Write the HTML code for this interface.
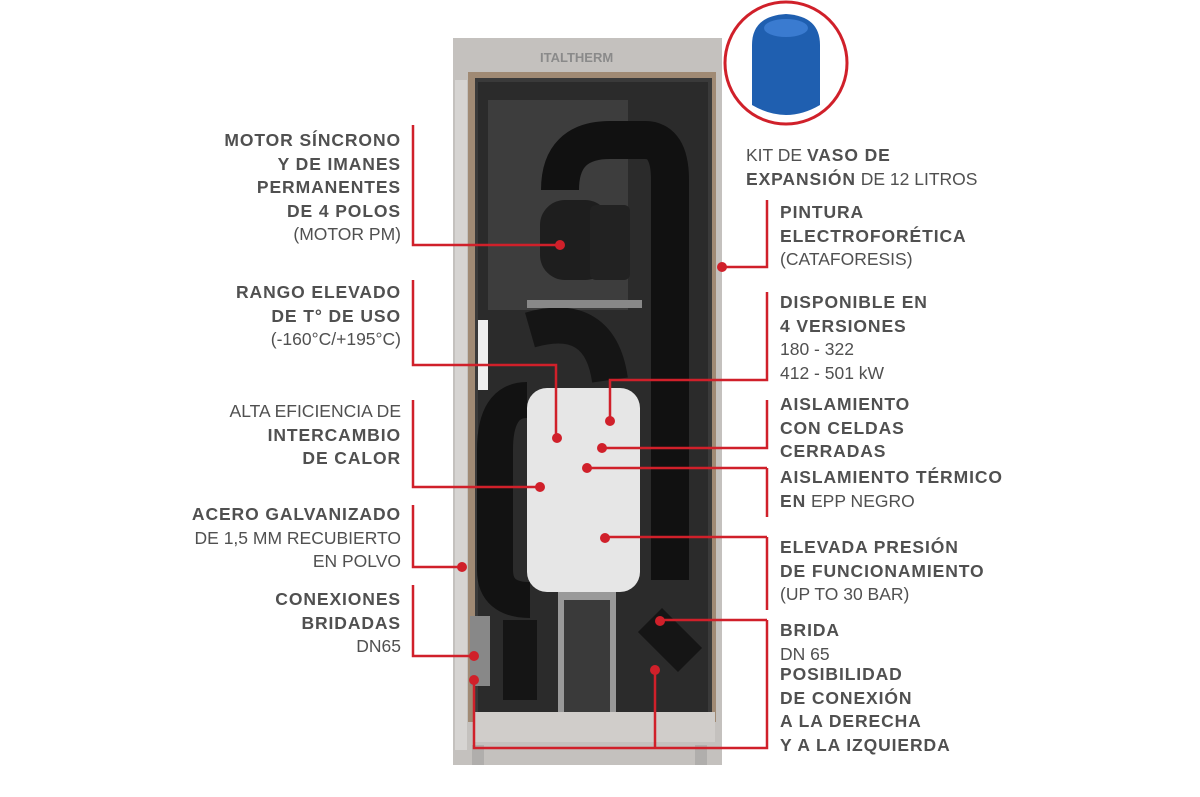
<!DOCTYPE html>
<html><head><meta charset="utf-8"><style>
body{margin:0;width:1200px;height:797px;background:#fff;position:relative;overflow:hidden;font-family:"Liberation Sans",sans-serif;color:#505050}
.t{position:absolute;font-size:17.5px;line-height:23.5px;white-space:nowrap}
.l{text-align:right;right:799px}
.r{left:780px}
b{font-weight:bold;letter-spacing:0.9px}
</style></head><body>
<svg width="1200" height="797" style="position:absolute;left:0;top:0">
<rect x="453" y="38" width="269" height="727" fill="#c4c1be"/>
<rect x="468" y="72" width="248" height="650" fill="#a08a74"/>
<rect x="475" y="78" width="237" height="642" fill="#3a3a3a"/>
<rect x="478" y="82" width="230" height="634" fill="#2b2b2b"/>
<rect x="488" y="100" width="140" height="210" fill="#3d3d3d"/>
<text x="540" y="62" font-family="Liberation Sans" font-size="13" font-weight="bold" fill="#8a8a8a">ITALTHERM</text>
<rect x="455" y="80" width="12" height="670" fill="#d6d4d2"/>
<rect x="478" y="320" width="10" height="70" fill="#eee"/>
<path d="M560 190 Q560 140 610 140 L645 140 Q670 140 670 180 L670 580" stroke="#111" stroke-width="38" fill="none"/>
<path d="M530 330 Q600 310 610 380" stroke="#151515" stroke-width="36" fill="none"/>
<path d="M527 400 Q495 400 495 450 L495 570 Q495 600 530 600" stroke="#121212" stroke-width="36" fill="none"/>
<path d="M520 620 L520 700 M650 620 L690 660" stroke="#151515" stroke-width="34" fill="none"/>
<rect x="540" y="200" width="70" height="80" rx="25" fill="#1e1e1e"/>
<rect x="590" y="205" width="40" height="75" rx="6" fill="#222"/>
<rect x="527" y="300" width="115" height="8" fill="#888"/>
<rect x="558" y="590" width="58" height="130" fill="#999"/>
<rect x="564" y="600" width="46" height="115" fill="#3a3a3a"/>
<rect x="470" y="616" width="20" height="70" fill="#888"/>
<rect x="475" y="712" width="240" height="30" fill="#d0cdca"/>
<rect x="472" y="745" width="12" height="20" fill="#b0aeac"/>
<rect x="695" y="745" width="12" height="20" fill="#b0aeac"/>
<rect x="527" y="388" width="113" height="204" rx="20" fill="#e6e6e6"/>
<circle cx="786" cy="63" r="61" fill="#fff" stroke="#d0202a" stroke-width="3"/>
<path d="M752 45 Q752 16 786 14 Q820 16 820 45 L820 105 Q786 125 752 105 Z" fill="#1f5fb0"/>
<ellipse cx="786" cy="28" rx="22" ry="9" fill="#3a7bd0"/>
<g stroke="#d0202a" stroke-width="2.5" fill="none">
<path d="M413 125 V245 H560"/>
<path d="M413 280 V365 H556 V438"/>
<path d="M413 400 V487 H540"/>
<path d="M413 505 V567 H462"/>
<path d="M413 585 V656 H474"/>
<path d="M474 680 V748 H767 V665 M655 670 V748"/>
<path d="M767 200 V267 H722"/>
<path d="M767 292 V380 H610 V421"/>
<path d="M767 400 V448 H602"/>
<path d="M767 468 V517 M767 468 H587"/>
<path d="M767 537 V610 M767 537 H605"/>
<path d="M767 620 V665 M767 620 H660"/>
</g>
<g fill="#d0202a">
<circle cx="560" cy="245" r="5"/><circle cx="557" cy="438" r="5"/><circle cx="540" cy="487" r="5"/>
<circle cx="462" cy="567" r="5"/><circle cx="474" cy="656" r="5"/><circle cx="474" cy="680" r="5"/>
<circle cx="655" cy="670" r="5"/><circle cx="722" cy="267" r="5"/><circle cx="610" cy="421" r="5"/>
<circle cx="602" cy="448" r="5"/><circle cx="587" cy="468" r="5"/><circle cx="605" cy="538" r="5"/><circle cx="660" cy="621" r="5"/>
</g>
</svg>
<div class="t l" style="top:129px"><b>MOTOR SÍNCRONO<br>Y DE IMANES<br>PERMANENTES<br>DE 4 POLOS</b><br>(MOTOR PM)</div>
<div class="t l" style="top:281px"><b>RANGO ELEVADO<br>DE T° DE USO</b><br>(-160°C/+195°C)</div>
<div class="t l" style="top:400px">ALTA EFICIENCIA DE<br><b>INTERCAMBIO<br>DE CALOR</b></div>
<div class="t l" style="top:503px"><b>ACERO GALVANIZADO</b><br>DE 1,5 MM RECUBIERTO<br>EN POLVO</div>
<div class="t l" style="top:588px"><b>CONEXIONES<br>BRIDADAS</b><br>DN65</div>
<div class="t" style="left:746px;top:144px">KIT DE <b>VASO DE<br>EXPANSIÓN</b> DE 12 LITROS</div>
<div class="t r" style="top:201px"><b>PINTURA<br>ELECTROFORÉTICA</b><br>(CATAFORESIS)</div>
<div class="t r" style="top:291px"><b>DISPONIBLE EN<br>4 VERSIONES</b><br>180 - 322<br>412 - 501 kW</div>
<div class="t r" style="top:393px"><b>AISLAMIENTO<br>CON CELDAS<br>CERRADAS</b></div>
<div class="t r" style="top:466px"><b>AISLAMIENTO TÉRMICO<br>EN</b> EPP NEGRO</div>
<div class="t r" style="top:536px"><b>ELEVADA PRESIÓN<br>DE FUNCIONAMIENTO</b><br>(UP TO 30 BAR)</div>
<div class="t r" style="top:619px"><b>BRIDA</b><br>DN 65</div>
<div class="t r" style="top:663px"><b>POSIBILIDAD<br>DE CONEXIÓN<br>A LA DERECHA<br>Y A LA IZQUIERDA</b></div>
</body></html>
